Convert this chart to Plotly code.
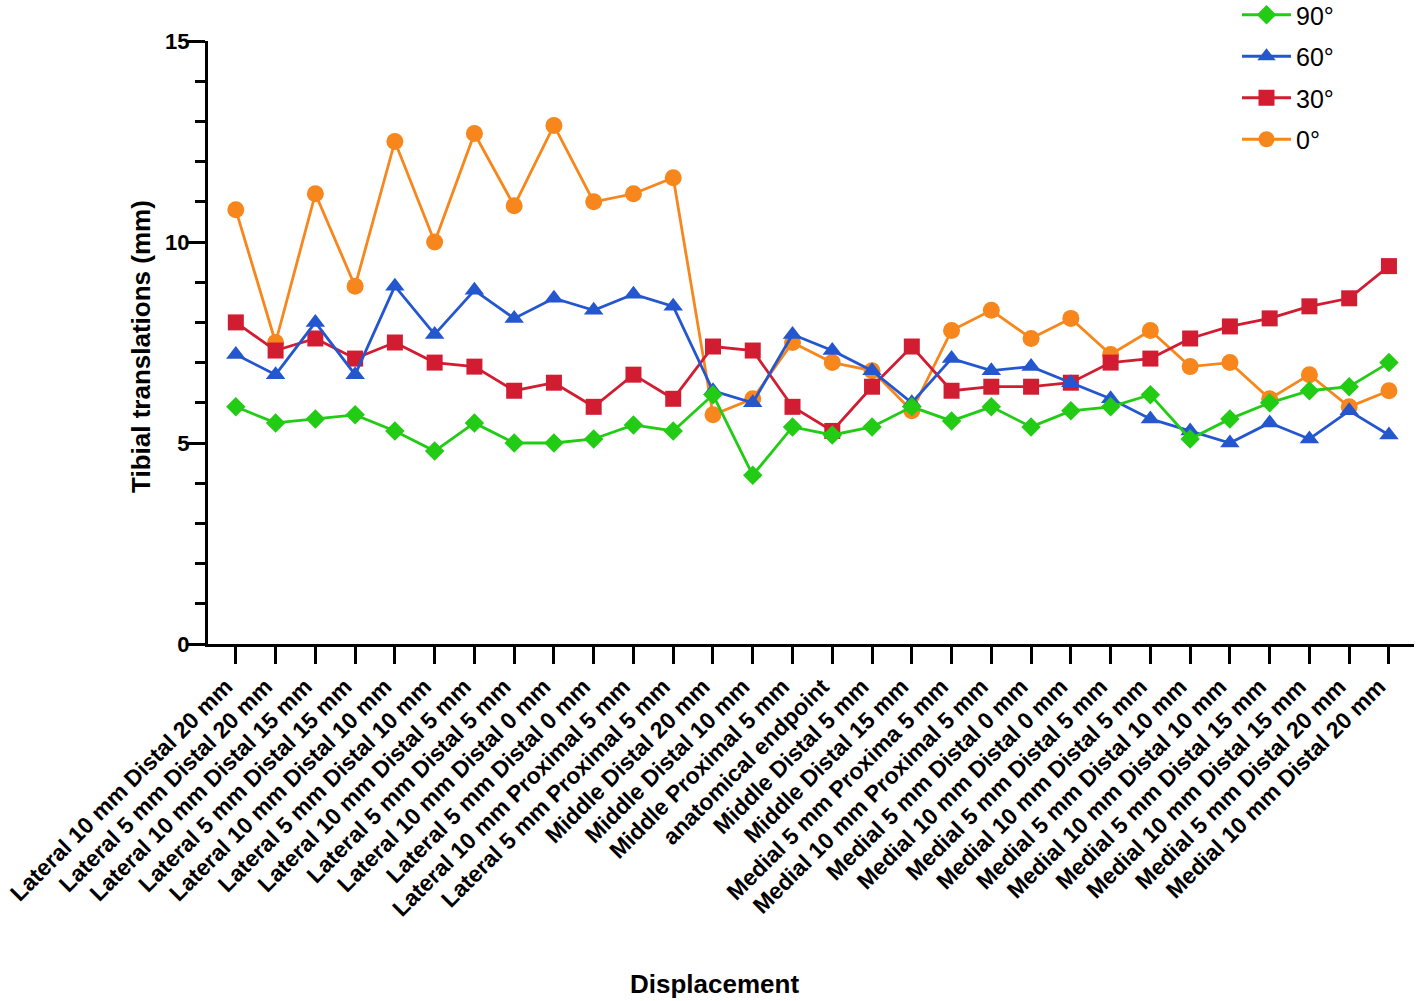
import plotly.graph_objects as go

categories = [
    "Lateral 10 mm Distal 20 mm", "Lateral 5 mm Distal 20 mm",
    "Lateral 10 mm Distal 15 mm", "Lateral 5 mm Distal 15 mm",
    "Lateral 10 mm Distal 10 mm", "Lateral 5 mm Distal 10 mm",
    "Lateral 10 mm Distal 5 mm", "Lateral 5 mm Distal 5 mm",
    "Lateral 10 mm Distal 0 mm", "Lateral 5 mm Distal 0 mm",
    "Lateral 10 mm Proximal 5 mm", "Lateral 5 mm Proximal 5 mm",
    "Middle Distal 20 mm", "Middle Distal 10 mm", "Middle Proximal 5 mm",
    "anatomical endpoint", "Middle Distal 5 mm", "Middle Distal 15 mm",
    "Medial 5 mm Proxima 5 mm", "Medial 10 mm Proximal 5 mm",
    "Medial 5 mm Distal 0 mm", "Medial 10 mm Distal 0 mm",
    "Medial 5 mm Distal 5 mm", "Medial 10 mm Distal 5 mm",
    "Medial 5 mm Distal 10 mm", "Medial 10 mm Distal 10 mm",
    "Medial 5 mm Distal 15 mm", "Medial 10 mm Distal 15 mm",
    "Medial 5 mm Distal 20 mm", "Medial 10 mm Distal 20 mm",
]

deg0 = [10.8, 7.5, 11.2, 8.9, 12.5, 10.0, 12.7, 10.9, 12.9, 11.0, 11.2, 11.6,
        5.7, 6.1, 7.5, 7.0, 6.8, 5.8, 7.8, 8.3, 7.6, 8.1, 7.2, 7.8,
        6.9, 7.0, 6.1, 6.7, 5.9, 6.3]
deg30 = [8.0, 7.3, 7.6, 7.1, 7.5, 7.0, 6.9, 6.3, 6.5, 5.9, 6.7, 6.1,
         7.4, 7.3, 5.9, 5.3, 6.4, 7.4, 6.3, 6.4, 6.4, 6.5, 7.0, 7.1,
         7.6, 7.9, 8.1, 8.4, 8.6, 9.4]
deg60 = [7.2, 6.7, 8.0, 6.7, 8.9, 7.7, 8.8, 8.1, 8.6, 8.3, 8.7, 8.4,
         6.3, 6.0, 7.7, 7.3, 6.8, 6.0, 7.1, 6.8, 6.9, 6.5, 6.1, 5.6,
         5.3, 5.0, 5.5, 5.1, 5.8, 5.2]
deg90 = [5.9, 5.5, 5.6, 5.7, 5.3, 4.8, 5.5, 5.0, 5.0, 5.1, 5.45, 5.3,
         6.2, 4.2, 5.4, 5.2, 5.4, 5.9, 5.55, 5.9, 5.4, 5.8, 5.9, 6.2,
         5.1, 5.6, 6.0, 6.3, 6.4, 7.0]

# drawing order: 0 bottom ... 90 top ; legend rank: 90, 60, 30, 0
series = [
    ("0°", deg0, "#f7861c", "circle", 17, 4),
    ("30°", deg30, "#d21c32", "square", 16, 3),
    ("60°", deg60, "#2457cf", "triangle-up", 17, 2),
    ("90°", deg90, "#22cc14", "diamond", 15, 1),
]

FONT = "Liberation Sans, Arial, sans-serif"

W, H = 1418, 1001
L, T = 208, 41
PW, PH = 1206, 603
R, B = W - L - PW, H - T - PH

fig = go.Figure()
for name, vals, color, sym, size, rank in series:
    fig.add_trace(go.Scatter(
        x=categories, y=vals, name=name, mode="lines+markers",
        legendgroup=name, legendrank=rank,
        line=dict(color=color, width=2.8),
        marker=dict(symbol=sym, size=size, color=color, line=dict(width=0)),
    ))

fig.update_layout(
    width=W, height=H,
    paper_bgcolor="white", plot_bgcolor="white",
    margin=dict(l=L, r=R, t=T, b=B, autoexpand=False),
    font=dict(family=FONT, color="black"),
    showlegend=True,
    legend=dict(
        x=(1237 - L) / PW, xref="paper", y=1 + 49 / PH, yref="paper",
        xanchor="left", yanchor="top",
        traceorder="grouped", tracegroupgap=6, itemwidth=49,
        font=dict(family=FONT, size=25, color="black"),
        bgcolor="rgba(0,0,0,0)",
    ),
    xaxis=dict(
        type="category", range=[-0.7, 29.63], automargin=False,
        showline=True, linecolor="black", linewidth=3,
        ticks="outside", ticklen=17, tickwidth=3, tickcolor="black",
        tickangle=-45, showgrid=False, zeroline=False, ticklabelshift=-10,
        tickfont=dict(family=FONT, size=23, color="black", weight="bold"),
    ),
    yaxis=dict(
        range=[0, 15], tickmode="linear", tick0=0, dtick=5, automargin=False,
        showline=True, linecolor="black", linewidth=3,
        ticks="outside", ticklen=18, tickwidth=3, tickcolor="black",
        showgrid=False, zeroline=False, ticklabelstandoff=-7,
        tickfont=dict(family=FONT, size=22, color="black", weight="bold"),
        minor=dict(dtick=1, tick0=0, ticks="outside", ticklen=10, tickwidth=3,
                   tickcolor="black", showgrid=False),
    ),
    annotations=[
        dict(text="Tibial translations (mm)", xref="paper", yref="paper",
             x=(141 - L) / PW, y=(T + PH - 347) / PH, xanchor="center",
             yanchor="middle", textangle=-90, showarrow=False,
             font=dict(family=FONT, size=26, color="black", weight="bold")),
        dict(text="Displacement", xref="paper", yref="paper",
             x=(714 - L) / PW, y=-(1000 - T - PH) / PH, xanchor="center",
             yanchor="bottom", showarrow=False, borderpad=0,
             font=dict(family=FONT, size=26, color="black", weight="bold")),
    ],
)

fig.write_html(
    "out.html",
    config={"displayModeBar": False},
    post_script="document.body.style.margin='0';document.body.style.overflow='hidden';",
)
